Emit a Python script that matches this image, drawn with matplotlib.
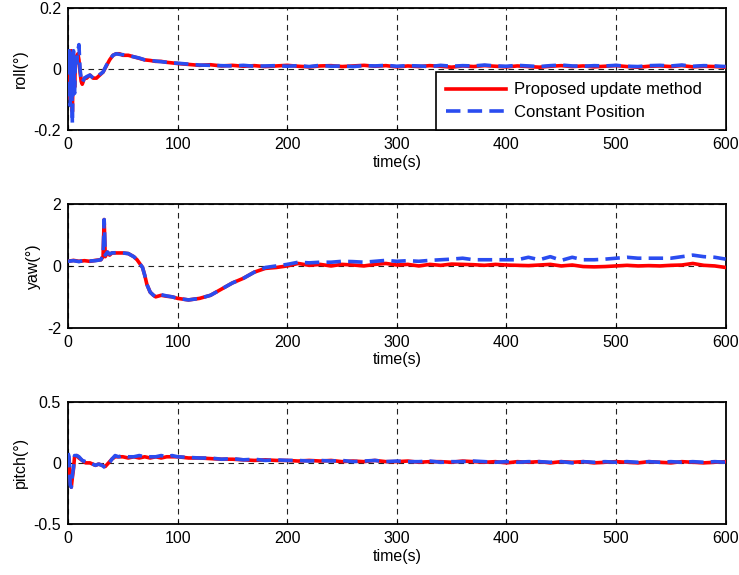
import numpy as np
import matplotlib
matplotlib.use("Agg")
import matplotlib.pyplot as plt

plt.rcParams['font.family'] = ['Liberation Sans', 'DejaVu Sans']
plt.rcParams['font.size'] = 11.5

late_t = list(range(100, 601, 10))

# ---- roll ----
roll_t = [0, 1, 2, 3, 4, 5, 6, 7, 8, 9, 10, 11, 12, 13, 15, 17, 20, 23, 26, 29,
          32, 35, 38, 41, 44, 47, 50, 55, 60, 65, 70, 75, 80, 85, 90, 95] + late_t
roll_prop = [0.0, 0.05, -0.10, 0.06, -0.14, 0.05, -0.06, 0.04, 0.03, 0.05,
             0.03, -0.01, -0.04, -0.05, -0.03, -0.03, -0.02, -0.03, -0.03, -0.02,
             -0.01, 0.01, 0.03, 0.045, 0.05, 0.05, 0.045, 0.045, 0.04, 0.035,
             0.03, 0.028, 0.025, 0.025, 0.022, 0.02,
             0.018, 0.015, 0.012, 0.014, 0.010, 0.012, 0.009, 0.011, 0.008, 0.010,
             0.012, 0.009, 0.007, 0.010, 0.011, 0.008, 0.010, 0.012, 0.009, 0.011,
             0.007, 0.010, 0.008, 0.011, 0.009, 0.006, 0.010, 0.008, 0.011, 0.009,
             0.007, 0.010, 0.008, 0.006, 0.009, 0.011, 0.008, 0.010, 0.007, 0.009,
             0.011, 0.008, 0.006, 0.009, 0.010, 0.008, 0.011, 0.007, 0.009, 0.008,
             0.006]
roll_const = [0.02, 0.06, -0.12, 0.05, -0.18, 0.06, -0.08, 0.05, 0.02, 0.06,
              0.08, 0.0, -0.03, -0.045, -0.03, -0.025, -0.02, -0.03, -0.028, -0.018,
              -0.01, 0.012, 0.03, 0.045, 0.05, 0.048, 0.047, 0.044, 0.04, 0.036,
              0.03, 0.028, 0.026, 0.024, 0.022, 0.02,
              0.019, 0.016, 0.013, 0.012, 0.011, 0.010, 0.012, 0.009, 0.010, 0.011,
              0.009, 0.011, 0.008, 0.012, 0.009, 0.010, 0.008, 0.011, 0.010, 0.012,
              0.009, 0.011, 0.010, 0.008, 0.012, 0.009, 0.011, 0.010, 0.013, 0.010,
              0.009, 0.012, 0.010, 0.008, 0.011, 0.013, 0.010, 0.009, 0.011, 0.010,
              0.012, 0.009, 0.008, 0.011, 0.012, 0.010, 0.013, 0.009, 0.011, 0.010,
              0.008]

# ---- yaw ----
yaw_t = [0, 5, 10, 15, 20, 25, 30, 32, 33, 34, 36, 38, 40, 45, 50, 55, 60, 63,
         66, 68, 70, 72, 75, 78, 80, 85, 90, 95] + late_t
yaw_prop = [0.15, 0.18, 0.15, 0.17, 0.15, 0.18, 0.2, 0.3, 1.5, 0.3, 0.45, 0.35,
            0.42, 0.42, 0.42, 0.4, 0.3, 0.2, 0.05, -0.05, -0.3, -0.6, -0.85, -0.95,
            -1.0, -0.95, -0.98, -1.0,
            -1.05, -1.1, -1.05, -0.95, -0.75, -0.55, -0.4, -0.2, -0.08, -0.05,
            0.0, 0.08, 0.02, 0.05, 0.0, 0.05, 0.03, 0.0, 0.05, 0.08,
            0.03, 0.05, 0.0, 0.05, 0.02, 0.06, 0.05, 0.04, 0.02, 0.05,
            0.03, 0.02, 0.01, 0.03, 0.05, 0.0, 0.03, -0.02, -0.03, -0.02,
            0.0, 0.02, 0.0, 0.01, 0.0, 0.02, 0.03, 0.08, 0.02, 0.0,
            -0.05]
yaw_const = [0.15, 0.17, 0.14, 0.18, 0.16, 0.17, 0.2, 0.35, 1.5, 0.35, 0.45, 0.38,
             0.42, 0.43, 0.42, 0.4, 0.3, 0.2, 0.05, -0.05, -0.3, -0.6, -0.85, -0.95,
             -1.0, -0.93, -0.97, -1.0,
             -1.05, -1.1, -1.05, -0.95, -0.75, -0.55, -0.4, -0.2, -0.05, 0.0,
             0.05, 0.12, 0.1, 0.12, 0.12, 0.15, 0.14, 0.12, 0.15, 0.18,
             0.15, 0.17, 0.15, 0.18, 0.2, 0.22, 0.25, 0.2, 0.2, 0.2,
             0.2, 0.2, 0.28, 0.2, 0.3, 0.18, 0.28, 0.2, 0.2, 0.22,
             0.25, 0.28, 0.25, 0.25, 0.25, 0.25, 0.3, 0.35, 0.3, 0.28,
             0.22]

# ---- pitch ----
pitch_t = [0, 1, 2, 3, 4, 5, 6, 8, 10, 13, 16, 20, 25, 28, 31, 34, 37, 40, 43,
           46, 50, 55, 60, 65, 70, 75, 80, 85, 90, 95] + late_t
pitch_prop = [0.05, 0.0, -0.15, -0.2, -0.12, -0.05, 0.05, 0.06, 0.04, 0.02,
              0.0, 0.0, -0.02, -0.01, -0.02, -0.03, 0.0, 0.03, 0.05, 0.05,
              0.05, 0.04, 0.05, 0.04, 0.05, 0.04, 0.05, 0.04, 0.05, 0.05,
              0.05, 0.04, 0.04, 0.035, 0.03, 0.03, 0.025, 0.02, 0.025, 0.02,
              0.02, 0.015, 0.02, 0.015, 0.02, 0.01, 0.015, 0.01, 0.02, 0.01,
              0.01, 0.015, 0.005, 0.01, 0.01, 0.005, 0.015, 0.01, 0.005, 0.01,
              0.0, 0.01, 0.005, 0.01, 0.0, 0.01, 0.005, 0.01, 0.0, 0.005,
              0.01, 0.005, 0.0, 0.01, 0.005, 0.0, 0.01, 0.005, 0.0, 0.005,
              0.01]
pitch_const = [0.08, 0.05, -0.18, -0.2, -0.1, -0.04, 0.06, 0.06, 0.05, 0.02,
               0.01, 0.0, -0.02, -0.01, -0.02, -0.04, -0.01, 0.03, 0.06, 0.05,
               0.06, 0.05, 0.05, 0.06, 0.05, 0.05, 0.05, 0.06, 0.05, 0.06,
               0.05, 0.045, 0.04, 0.04, 0.03, 0.035, 0.025, 0.03, 0.02, 0.025,
               0.02, 0.02, 0.015, 0.02, 0.015, 0.02, 0.01, 0.015, 0.02, 0.01,
               0.015, 0.01, 0.01, 0.015, 0.005, 0.01, 0.01, 0.015, 0.01, 0.005,
               0.01, 0.005, 0.01, 0.01, 0.005, 0.01, 0.0, 0.01, 0.005, 0.01,
               0.005, 0.01, 0.005, 0.01, 0.005, 0.01, 0.005, 0.01, 0.005, 0.01,
               0.005]

labels = ["Proposed update method", "Constant Position"]
xticks = [0, 100, 200, 300, 400, 500, 600]

panels = [
    ("roll(°)", roll_t, roll_prop, roll_const, (-0.2, 0.2), [-0.2, 0, 0.2], ["-0.2", "0", "0.2"]),
    ("yaw(°)", yaw_t, yaw_prop, yaw_const, (-2, 2), [-2, 0, 2], ["-2", "0", "2"]),
    ("pitch(°)", pitch_t, pitch_prop, pitch_const, (-0.5, 0.5), [-0.5, 0, 0.5], ["-0.5", "0", "0.5"]),
]
rects = [(0.092, 0.774, 0.890, 0.212), (0.092, 0.430, 0.890, 0.215), (0.092, 0.089, 0.890, 0.212)]

fig = plt.figure(figsize=(7.39, 5.75), dpi=100)
for i, (lab, t, yp, yc, ylim, yt, ytl) in enumerate(panels):
    ax = fig.add_axes(rects[i])
    ax.plot(t, yp, color='#ff0000', lw=2.6, label=labels[0], zorder=3)
    ax.plot(t, yc, color='#2a4cf0', lw=2.6, ls=(0, (4, 2)), label=labels[1], zorder=4)
    ax.set_xlim(0, 600)
    ax.set_ylim(*ylim)
    ax.set_xticks(xticks)
    ax.set_yticks(yt)
    ax.set_yticklabels(ytl)
    ax.grid(True, color='#222222', ls=(0, (5, 4)), lw=0.8)
    ax.set_axisbelow(True)
    for s in ax.spines.values():
        s.set_linewidth(1.3)
    ax.tick_params(direction='in', length=3, width=0.8, pad=5)
    ax.set_xlabel("time(s)", labelpad=2)
    ax.set_ylabel(lab, labelpad=4)
    if i == 0:
        leg = ax.legend([l + "   " for l in labels], loc='lower right',
                        borderaxespad=0, fancybox=False, borderpad=0.6,
                        framealpha=1, edgecolor='black', handlelength=3.6,
                        handletextpad=0.5, labelspacing=0.45, fontsize=12)
        leg.get_frame().set_linewidth(1.2)

fig.savefig("out.png", dpi=100)
